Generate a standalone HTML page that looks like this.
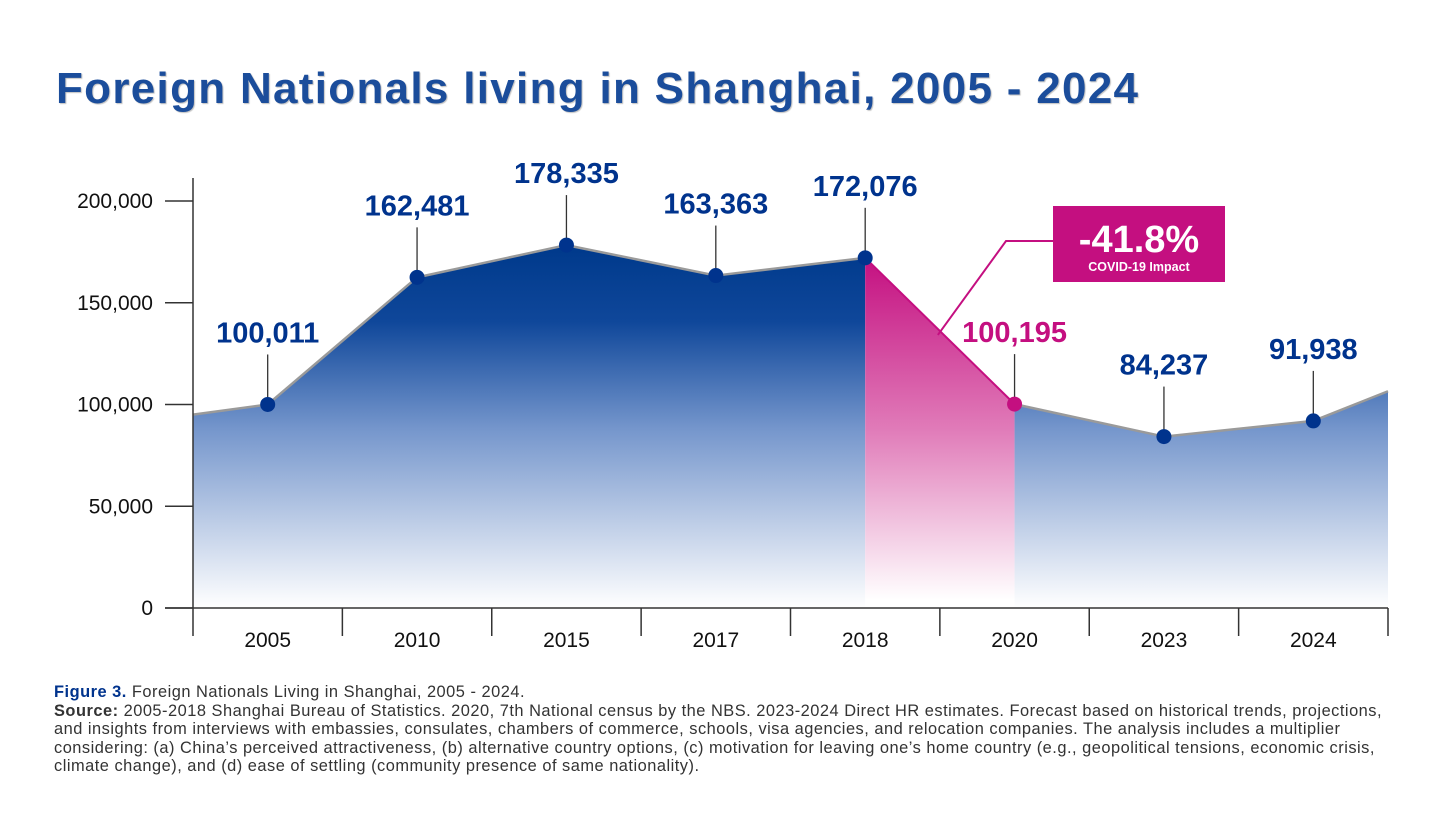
<!DOCTYPE html>
<html><head><meta charset="utf-8"><style>
body{margin:0;background:#fff;width:1456px;height:829px;overflow:hidden;font-family:"Liberation Sans",sans-serif}
h1{position:absolute;left:56px;top:64px;margin:0;font-size:44px;font-weight:bold;color:#1b4d9b;letter-spacing:1.3px;text-shadow:1px 1px 1px rgba(0,0,0,0.25)}
.cap{position:absolute;left:54px;top:683px;font-size:16.4px;line-height:18.5px;color:#333;letter-spacing:0.5px;white-space:nowrap}
.cap b{color:#00338d}
.cap .s{color:#333}
</style></head><body>
<h1>Foreign Nationals living in Shanghai, 2005 - 2024</h1>
<svg id="chart" width="1456" height="829" style="position:absolute;left:0;top:0"></svg>
<div class="cap"><b>Figure 3.</b> Foreign Nationals Living in Shanghai, 2005 - 2024.<br><b class="s">Source:</b> 2005-2018 Shanghai Bureau of Statistics. 2020, 7th National census by the NBS. 2023-2024 Direct HR estimates. Forecast based on historical trends, projections,<br>and insights from interviews with embassies, consulates, chambers of commerce, schools, visa agencies, and relocation companies. The analysis includes a multiplier<br>considering: (a) China’s perceived attractiveness, (b) alternative country options, (c) motivation for leaving one’s home country (e.g., geopolitical tensions, economic crisis,<br>climate change), and (d) ease of settling (community presence of same nationality).</div>
<script>
const categories=["2005","2010","2015","2017","2018","2020","2023","2024"];
const values=[100011,162481,178335,163363,172076,100195,84237,91938];
const edgeValues=[95000,106500];
const yTicks=[0,50000,100000,150000,200000];
const NS="http://www.w3.org/2000/svg";
const svg=document.getElementById('chart');
const X0=193,X1=1388,Y0=608,Ytop=201,YMAX=200000;
const bw=(X1-X0)/categories.length;
const x=i=>X0+bw*(i+0.5);
const y=v=>Y0-(v/YMAX)*(Y0-Ytop);
function el(t,a){const e=document.createElementNS(NS,t);for(const k in a)e.setAttribute(k,a[k]);svg.appendChild(e);return e;}
const defs=el('defs',{});
defs.innerHTML='<linearGradient id="gb" gradientUnits="userSpaceOnUse" x1="0" y1="250" x2="0" y2="608"><stop offset="0" stop-color="#003a8c"/><stop offset="0.2" stop-color="#0f479a"/><stop offset="0.5" stop-color="#7596cc"/><stop offset="1" stop-color="#ffffff"/></linearGradient><linearGradient id="gm" gradientUnits="userSpaceOnUse" x1="0" y1="256" x2="0" y2="600"><stop offset="0" stop-color="#c40f80"/><stop offset="0.5" stop-color="#e07ab8"/><stop offset="1" stop-color="#ffffff"/></linearGradient>';
const iCov=categories.indexOf("2018"),iAfter=categories.indexOf("2020");
const pts=[[X0,y(edgeValues[0])]].concat(values.map((v,i)=>[x(i),y(v)])).concat([[X1,y(edgeValues[1])]]);
function area(a,b,fill,name){
  const seg=pts.slice(a,b+1);
  let d='M'+seg[0][0]+','+Y0+' '+seg.map(p=>'L'+p[0]+','+p[1]).join(' ')+' L'+seg[seg.length-1][0]+','+Y0+'Z';
  const p=el('path',{d:d,fill:fill});
  
  
}
area(0,iCov+1,'url(#gb)','area-pre-covid');
area(iCov+1,iAfter+1,'url(#gm)','area-covid-drop');
area(iAfter+1,pts.length-1,'url(#gb)','area-post-covid');
for(let k=0;k<pts.length-1;k++){
  const mag=(k===iCov+1);
  const l=el('line',{x1:pts[k][0],y1:pts[k][1],x2:pts[k+1][0],y2:pts[k+1][1],stroke:mag?'#c40f80':'#9a9a9a','stroke-width':mag?2:2.5});
  
  
}
const ax=el('line',{x1:X0,y1:178,x2:X0,y2:Y0,stroke:'#333','stroke-width':1.5});

const xa=el('line',{x1:X0-28,y1:Y0,x2:X1,y2:Y0,stroke:'#333','stroke-width':1.5});

yTicks.forEach(t=>{
  const tl=el('line',{x1:X0-28,y1:y(t),x2:X0,y2:y(t),stroke:'#333','stroke-width':1.5});
  
  const tx=el('text',{x:X0-40,y:y(t)+7,'text-anchor':'end','font-size':21,fill:'#111'});
  tx.textContent=t.toLocaleString('en-US');
  
});
for(let i=0;i<=categories.length;i++){
  const xx=X0+bw*i;
  const tl=el('line',{x1:xx,y1:Y0,x2:xx,y2:Y0+28,stroke:'#333','stroke-width':1.5});
  
}
categories.forEach((c,i)=>{
  const tx=el('text',{x:x(i),y:647,'text-anchor':'middle','font-size':21,fill:'#111'});
  tx.textContent=c;
  
});
values.forEach((v,i)=>{
  const col=i===iAfter?'#c40f80':'#00338d';
  const py=y(v);
  const ld=el('line',{x1:x(i),y1:py,x2:x(i),y2:py-50,stroke:'#333','stroke-width':1.3});
  
  const c=el('circle',{cx:x(i),cy:py,r:7.5,fill:col});
  
  const t=el('text',{x:x(i),y:py-62,'text-anchor':'middle','font-size':29,'font-weight':'bold',fill:col});
  t.textContent=v.toLocaleString('en-US');
  
});
const mx=(x(iCov)+x(iAfter))/2, my=(y(values[iCov])+y(values[iAfter]))/2;
const cl=el('polyline',{points:`${mx-2},${my+4} 1006,241 1055,241`,fill:'none',stroke:'#c40f80','stroke-width':2});

const box=el('rect',{x:1053,y:206,width:172,height:76,fill:'#c40f80'});

const pct=((values[iAfter]-values[iCov])/values[iCov]*100).toFixed(1);
const t1=el('text',{x:1139,y:252,'text-anchor':'middle','font-size':38,'font-weight':'bold',fill:'#fff'});
t1.textContent=pct+'%';

const t2=el('text',{x:1139,y:271,'text-anchor':'middle','font-size':12.5,'font-weight':'bold',fill:'#fff'});
t2.textContent='COVID-19 Impact';

</script>
</body></html>
